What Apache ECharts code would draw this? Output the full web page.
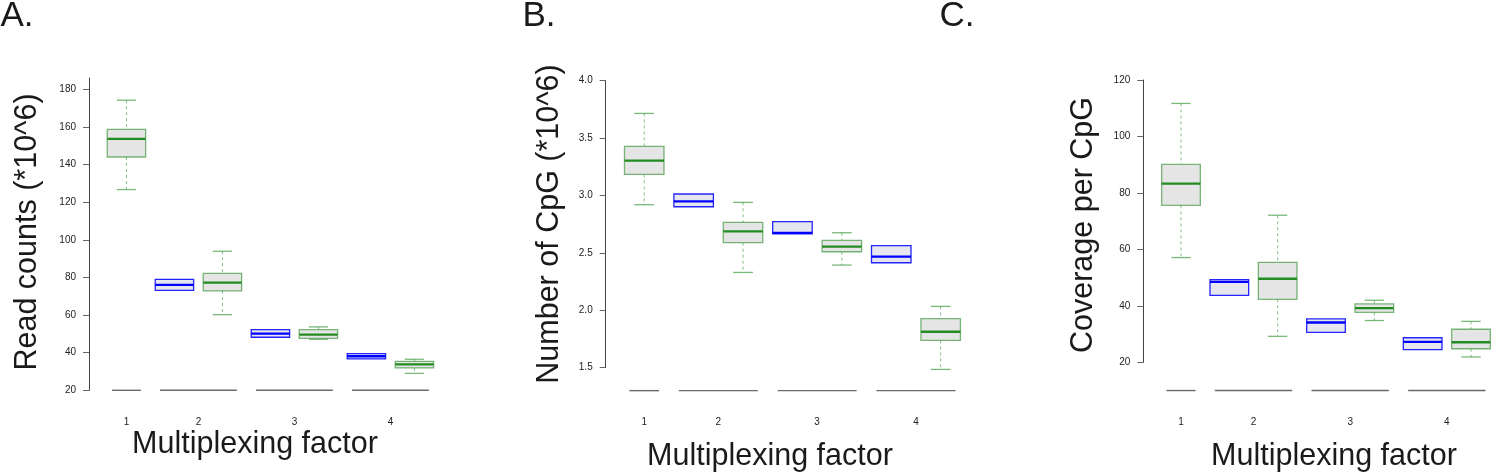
<!DOCTYPE html>
<html><head><meta charset="utf-8">
<script src="https://cdn.jsdelivr.net/npm/echarts@6/dist/echarts.min.js"></script>
<style>html,body{margin:0;padding:0;background:#fff}#c{width:1500px;height:476px}</style>
</head><body><div id="c"></div>
<script>
// Group labels (multiplexing factor)
const groups = ['1', '2', '3', '4'];
// Box statistics: [lower whisker, Q1, median, Q3, upper whisker]
const readGreen = [[126.7,144.0,153.6,158.7,174.2],[60.2,72.8,77.2,82.2,93.9],[47.1,47.6,49.6,52.2,53.7],[29.0,31.9,33.8,35.4,36.5]];
const readBlue  = [null,[73.1,73.1,76.0,79.0,79.0],[48.2,48.2,50.1,52.2,52.2],[36.7,36.7,38.1,39.5,39.5]];
const cpgGreen  = [[2.920,3.184,3.303,3.428,3.715],[2.330,2.589,2.687,2.766,2.940],[2.394,2.510,2.554,2.609,2.676],[1.485,1.738,1.813,1.927,2.034]];
const cpgBlue   = [null,[2.902,2.902,2.949,3.013,3.013],[2.665,2.665,2.675,2.772,2.772],[2.414,2.414,2.467,2.563,2.563]];
const covGreen  = [[57.1,75.6,83.3,90.1,111.7],[29.2,42.3,49.6,55.4,72.1],[34.8,37.7,39.2,40.7,42.0],[21.9,24.8,27.1,31.7,34.5]];
const covBlue   = [null,[43.7,43.7,48.5,49.3,49.3],[30.6,30.6,34.1,35.4,35.4],[24.5,24.5,27.2,28.7,28.7]];
// Baseline value of the grey group segments in each panel
const baselineValues = [20, 1.3, 10];
// Y tick labels
const readTicks = [20, 40, 60, 80, 100, 120, 140, 160, 180];
const cpgTicks  = [1.5, 2.0, 2.5, 3.0, 3.5, 4.0];
const covTicks  = [20, 40, 60, 80, 100, 120];

const FONT = "'Liberation Sans', Arial, Helvetica, sans-serif";
const BOX_HALF = 0.4;

// derive positions: each box one unit apart, blue first then green within a group
function buildPositions(blue, green) {
  let p = 1;
  const blueData = [], greenData = [], segs = [], labelPos = [];
  groups.forEach((g, i) => {
    const start = p;
    if (blue[i]) { blueData.push([p].concat(blue[i])); p++; }
    greenData.push([p].concat(green[i])); p++;
    const end = p - 1;
    segs.push([start - 0.3, end + 0.3]);
    labelPos.push((start + end) / 2);
  });
  return { blueData, greenData, segs, labelPos };
}

const GREEN = { fill: '#e5e5e5', border: 'rgba(34,139,34,0.6)', median: '#228b22', whisker: 'rgba(34,139,34,0.55)', cap: 'rgba(34,139,34,0.6)' };
const BLUE  = { fill: '#e6e6ee', border: 'rgba(0,0,255,0.85)', median: '#0000ff', whisker: 'rgba(0,0,255,0.5)', cap: 'rgba(0,0,255,0.6)' };

function makeBoxRender(st) {
  return function (params, api) {
    const x = api.value(0), lo = api.value(1), q1 = api.value(2), md = api.value(3), q3 = api.value(4), hi = api.value(5);
    const hw = BOX_HALF;
    const children = [];
    function seg(xa, ya, xb, yb, style) {
      const p1 = api.coord([xa, ya]), p2 = api.coord([xb, yb]);
      children.push({ type: 'line', shape: { x1: p1[0], y1: p1[1], x2: p2[0], y2: p2[1] }, style: style });
    }
    if (hi > q3) {
      seg(x, hi, x, q3, { stroke: st.whisker, lineWidth: 1, lineDash: [3, 3] });
      seg(x - hw / 2, hi, x + hw / 2, hi, { stroke: st.cap, lineWidth: 1.3 });
    }
    if (lo < q1) {
      seg(x, q1, x, lo, { stroke: st.whisker, lineWidth: 1, lineDash: [3, 3] });
      seg(x - hw / 2, lo, x + hw / 2, lo, { stroke: st.cap, lineWidth: 1.3 });
    }
    const a = api.coord([x - hw, q3]), b = api.coord([x + hw, q1]);
    children.push({ type: 'rect', shape: { x: a[0], y: a[1], width: b[0] - a[0], height: b[1] - a[1] },
      style: { fill: st.fill, stroke: st.border, lineWidth: 1.3 } });
    seg(x - hw, md, x + hw, md, { stroke: st.median, lineWidth: 2.3 });
    return { type: 'group', children: children };
  };
}

function baseRender(params, api) {
  const p1 = api.coord([api.value(0), api.value(2)]);
  const p2 = api.coord([api.value(1), api.value(2)]);
  return { type: 'line', shape: { x1: p1[0], y1: p1[1], x2: p2[0], y2: p2[1] }, style: { stroke: '#6a6a6a', lineWidth: 1.4 } };
}

const panels = [
  { blue: readBlue, green: readGreen, ticks: readTicks, yMin: 20, yMax: 186, dec: 0,
    grid: { left: 89, top: 78, width: 354.2, height: 312.3 }, xLabelMargin: 27 },
  { blue: cpgBlue, green: cpgGreen, ticks: cpgTicks, yMin: 1.5, yMax: 4.0, dec: 1,
    grid: { left: 605.7, top: 80.7, width: 364.6, height: 287 }, xLabelMargin: 50 },
  { blue: covBlue, green: covGreen, ticks: covTicks, yMin: 20, yMax: 120, dec: 0,
    grid: { left: 1143.3, top: 80, width: 365.7, height: 282.3 }, xLabelMargin: 55 }
];

const grid = [], xAxis = [], yAxis = [], series = [];
panels.forEach((pn, k) => {
  const d = buildPositions(pn.blue, pn.green);
  grid.push(pn.grid);
  xAxis.push({
    gridIndex: k, type: 'value', min: 0.22, max: 7.6,
    axisLine: { show: false }, axisTick: { show: false }, splitLine: { show: false },
    axisLabel: {
      customValues: d.labelPos, margin: pn.xLabelMargin, fontSize: 10, color: '#222', fontFamily: FONT,
      formatter: function (v) {
        const i = d.labelPos.findIndex(p => Math.abs(p - v) < 1e-6);
        return i >= 0 ? groups[i] : '';
      }
    }
  });
  yAxis.push({
    gridIndex: k, type: 'value', min: pn.yMin, max: pn.yMax,
    splitLine: { show: false },
    axisLine: { show: true, lineStyle: { color: '#444', width: 1 } },
    axisTick: { show: true, customValues: pn.ticks, length: 6, lineStyle: { color: '#666' } },
    axisLabel: { customValues: pn.ticks, margin: 13, fontSize: 10, color: '#222', fontFamily: FONT,
      formatter: v => Number(v).toFixed(pn.dec) }
  });
  series.push({
    type: 'custom', xAxisIndex: k, yAxisIndex: k, clip: false, silent: true,
    renderItem: baseRender, encode: { x: [0, 1], y: 2 },
    data: d.segs.map(s => [s[0], s[1], baselineValues[k]])
  });
  series.push({
    type: 'custom', xAxisIndex: k, yAxisIndex: k, clip: false, silent: true,
    renderItem: makeBoxRender(BLUE), encode: { x: 0, y: [1, 2, 3, 4, 5] }, data: d.blueData
  });
  series.push({
    type: 'custom', xAxisIndex: k, yAxisIndex: k, clip: false, silent: true,
    renderItem: makeBoxRender(GREEN), encode: { x: 0, y: [1, 2, 3, 4, 5] }, data: d.greenData
  });
});

function txt(text, x, y, size, rot) {
  return { type: 'text', x: x, y: y, rotation: rot || 0, silent: true,
    style: { text: text, font: size + 'px ' + FONT, fill: '#1a1a1a',
      align: 'center', verticalAlign: 'middle', textAlign: 'center', textVerticalAlign: 'middle' } };
}

const graphic = [
  txt('A.', 17, 16, 35), txt('B.', 539, 16, 35), txt('C.', 957, 16, 35),
  txt('Read counts (*10^6)', 28, 232, 30.5, Math.PI / 2),
  txt('Number of CpG (*10^6)', 550, 224, 30.5, Math.PI / 2),
  txt('Coverage per CpG', 1084, 225, 30.5, Math.PI / 2),
  txt('Multiplexing factor', 255, 445, 30.5),
  txt('Multiplexing factor', 770, 457, 30.5),
  txt('Multiplexing factor', 1334, 457, 30.5)
];

const chart = echarts.init(document.getElementById('c'), null, { renderer: 'canvas' });
chart.setOption({ animation: false, backgroundColor: '#fff', grid, xAxis, yAxis, series, graphic });
</script></body></html>
